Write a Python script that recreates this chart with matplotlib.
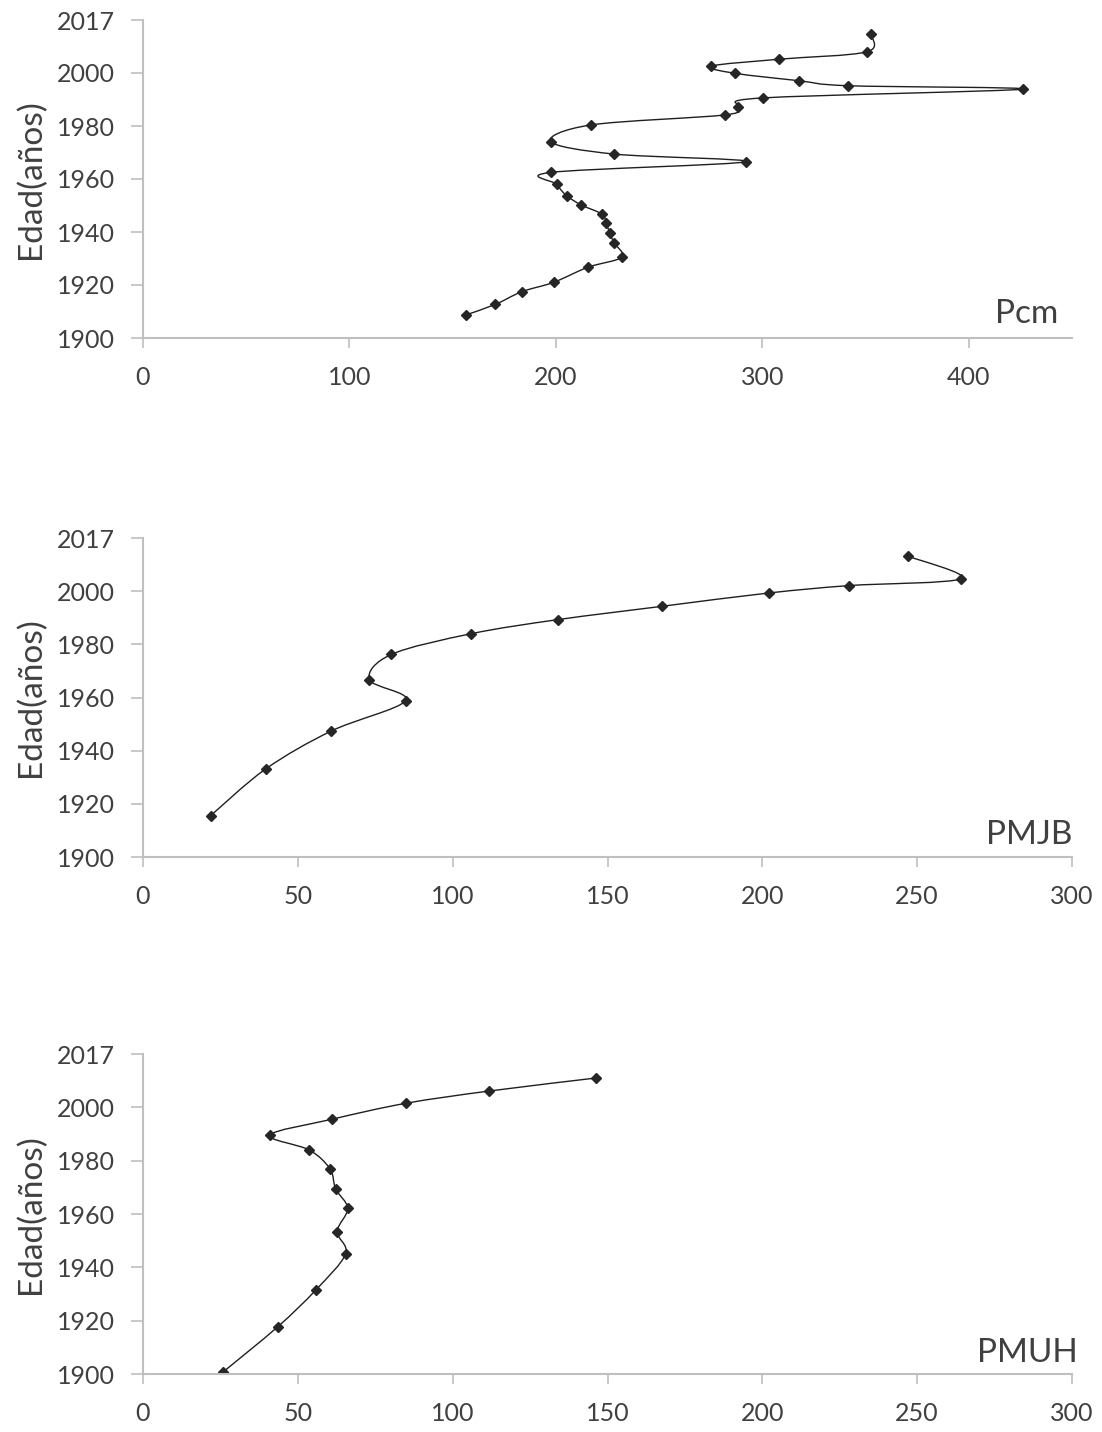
import matplotlib
matplotlib.use("Agg")
import matplotlib.pyplot as plt
from matplotlib.path import Path
from matplotlib.patches import PathPatch
import numpy as np

plt.rcParams['font.family'] = ['Lato', 'DejaVu Sans']

# ---- data (value, age position on axis) ----
pcm_x = [352.5, 350.6, 308.1, 275.2, 286.7, 317.6, 341.5, 426.1, 300.2, 288.4, 282.1,
         217.0, 197.5, 228.3, 291.9, 197.7, 200.4, 205.2, 212.3, 222.4, 224.3, 226.2,
         228.1, 231.9, 215.5, 198.9, 183.6, 170.7, 156.4]
pcm_y = [2014.7, 2008.0, 2005.2, 2002.6, 1999.9, 1997.1, 1995.2, 1993.9, 1990.6, 1987.3, 1984.2,
         1980.4, 1974.1, 1969.4, 1966.5, 1962.5, 1958.0, 1953.7, 1950.2, 1946.7, 1943.3, 1939.5,
         1936.0, 1930.5, 1926.7, 1921.0, 1917.5, 1912.7, 1908.7]

pmjb_x = [247.2, 264.2, 228.0, 202.0, 167.6, 134.0, 106.0, 80.2, 73.1, 84.8, 60.8, 39.6, 21.8]
pmjb_y = [2013.1, 2004.7, 2002.1, 1999.3, 1994.3, 1989.3, 1984.0, 1976.2, 1966.7, 1958.8,
          1947.4, 1933.1, 1915.5]

pmuh_x = [146.3, 111.7, 84.8, 60.9, 41.0, 53.7, 60.4, 62.2, 66.1, 62.7, 65.4, 55.8, 43.5, 25.7]
pmuh_y = [2011.0, 2006.1, 2001.5, 1995.5, 1989.6, 1984.0, 1976.9, 1969.4, 1962.1, 1953.4,
          1945.0, 1931.5, 1917.7, 1900.6]

y_ticks = [1900, 1920, 1940, 1960, 1980, 2000, 2020]
y_labels = ['1900', '1920', '1940', '1960', '1980', '2000', '2017']
names = ['Pcm', 'PMJB', 'PMUH']
x_ticks_list = [[0, 100, 200, 300, 400], [0, 50, 100, 150, 200, 250, 300], [0, 50, 100, 150, 200, 250, 300]]
x_max_list = [450, 300, 300]

W, H = 1102, 1432
fig = plt.figure(figsize=(W / 100, H / 100), dpi=100)
fig.patch.set_facecolor('white')

panels = [(20, 338), (538, 857), (1054, 1374)]
name_pos = [(1058, 323), (1072, 844), (1078, 1362)]
series = [(pcm_x, pcm_y), (pmjb_x, pmjb_y), (pmuh_x, pmuh_y)]
left, right = 143, 1072
axis_col = '#bfbfbf'
txt_col = '#404040'


def smooth_path(ax, xs, ys):
    # Catmull-Rom style smoothing done in display space (like Excel smoothed lines)
    pts = ax.transData.transform(np.column_stack([xs, ys]))
    n = len(pts)
    verts = [pts[0]]
    codes = [Path.MOVETO]
    for i in range(n - 1):
        p0 = pts[i - 1] if i > 0 else pts[i]
        p1 = pts[i]
        p2 = pts[i + 1]
        p3 = pts[i + 2] if i + 2 < n else pts[i + 1]
        c1 = p1 + (p2 - p0) / 6.0
        c2 = p2 - (p3 - p1) / 6.0
        verts += [c1, c2, p2]
        codes += [Path.CURVE4] * 3
    verts = ax.transData.inverted().transform(np.array(verts))
    return Path(verts, codes)


for k, ((top, bot), (xs, ys)) in enumerate(zip(panels, series)):
    ax = fig.add_axes([left / W, 1 - bot / H, (right - left) / W, (bot - top) / H])
    ax.set_xlim(0, x_max_list[k])
    ax.set_ylim(1900, 2020)
    ax.set_xticks(x_ticks_list[k])
    ax.set_yticks(y_ticks)
    ax.set_yticklabels(y_labels)
    for s in ['top', 'right']:
        ax.spines[s].set_visible(False)
    for s in ['left', 'bottom']:
        ax.spines[s].set_color(axis_col)
        ax.spines[s].set_linewidth(1.5)
    ax.tick_params(axis='both', colors=axis_col, width=1.2, length=7, direction='out',
                   labelcolor=txt_col, labelsize=18)
    ax.tick_params(axis='y', length=9, pad=11)
    ax.tick_params(axis='x', pad=13)
    fig.canvas.draw()
    p = smooth_path(ax, xs, ys)
    ax.add_patch(PathPatch(p, facecolor='none', edgecolor='#1f1f1f', lw=1.0))
    ax.plot(xs, ys, linestyle='none', marker='D', markersize=4.8, color='#262626')
    ax.set_ylabel('Edad(años)', fontsize=24, color=txt_col, labelpad=8)
    nx, ny = name_pos[k]
    ax.text((nx - left) / (right - left), (bot - ny) / (bot - top), names[k],
            transform=ax.transAxes, ha='right', va='baseline', fontsize=24, color=txt_col)

fig.savefig('out.png', dpi=100, facecolor='white')
